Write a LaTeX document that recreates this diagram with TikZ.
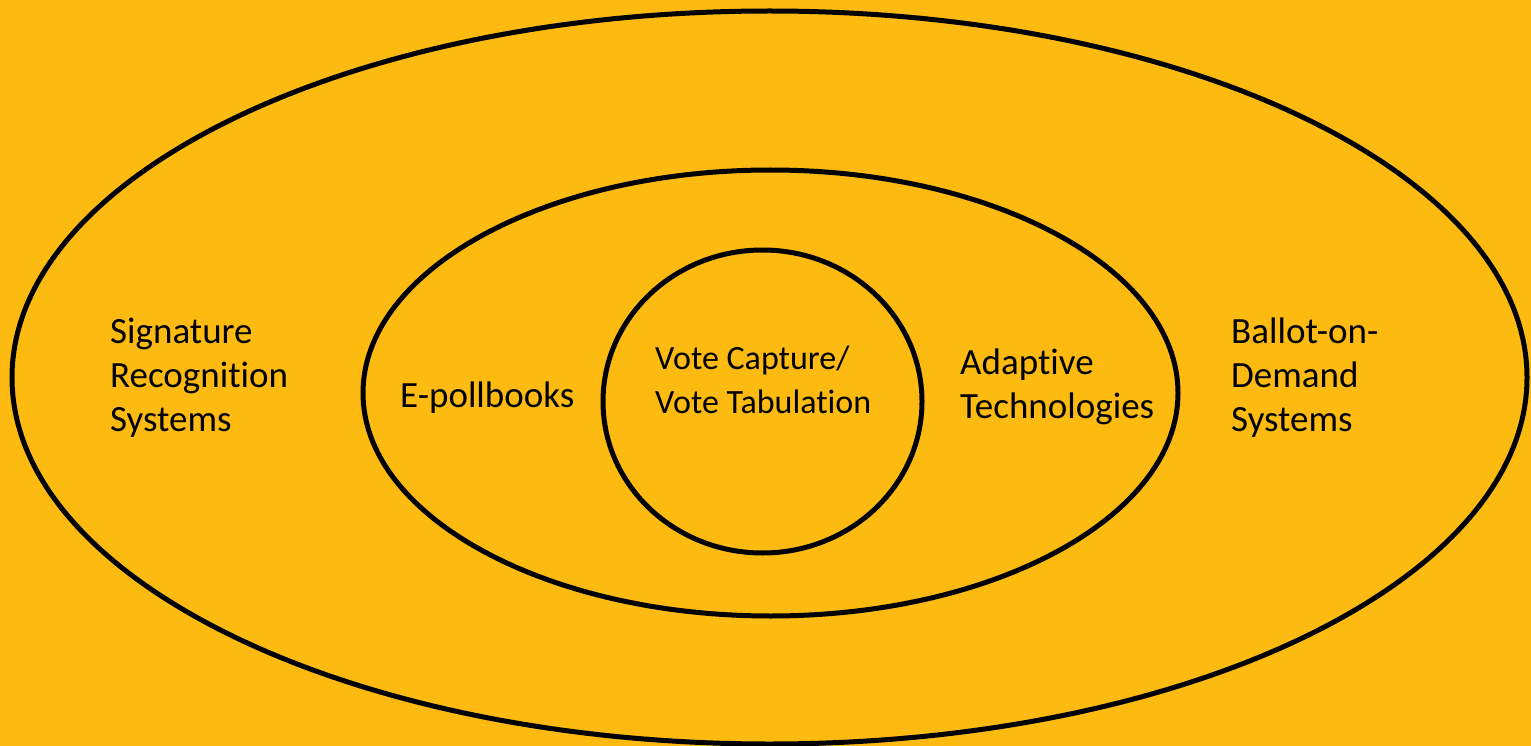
\documentclass[tikz,border=0pt]{standalone}
\usepackage{fontspec}
\setmainfont{Carlito}[Ligatures=NoCommon]
\definecolor{bgyellow}{RGB}{253,187,18}
\tikzset{
  ring/.style={draw=black, line width=5pt},
  lbl/.style={anchor=base west, align=left, inner sep=0pt, font=\fontsize{37}{44}\selectfont},
  lblsmall/.style={anchor=base west, align=left, inner sep=0pt, font=\fontsize{34}{44}\selectfont}
}
\begin{document}
\begin{tikzpicture}[x=1pt,y=-1pt]
\fill[bgyellow] (0,0) rectangle (1531,746);
\useasboundingbox (0,0) rectangle (1531,746);
\draw[ring] (769.5,377.5) ellipse [x radius=757.5pt, y radius=366.5pt];
\draw[ring] (770.5,393) ellipse [x radius=407.5pt, y radius=223pt];
\draw[ring] (762.5,401.5) ellipse [x radius=159.5pt, y radius=151.5pt];
\node[lbl] (sig) at (110,431) {Signature\\Recognition\\Systems};
\node[lbl] (epoll) at (400,407) {E-pollbooks};
\node[lblsmall] (vote) at (655,413) {Vote Capture/\\Vote Tabulation};
\node[lbl] (adapt) at (960,418) {Adaptive\\Technologies};
\node[lbl] (bod) at (1231,431) {Ballot-on-\\Demand\\Systems};
\end{tikzpicture}
\end{document}
